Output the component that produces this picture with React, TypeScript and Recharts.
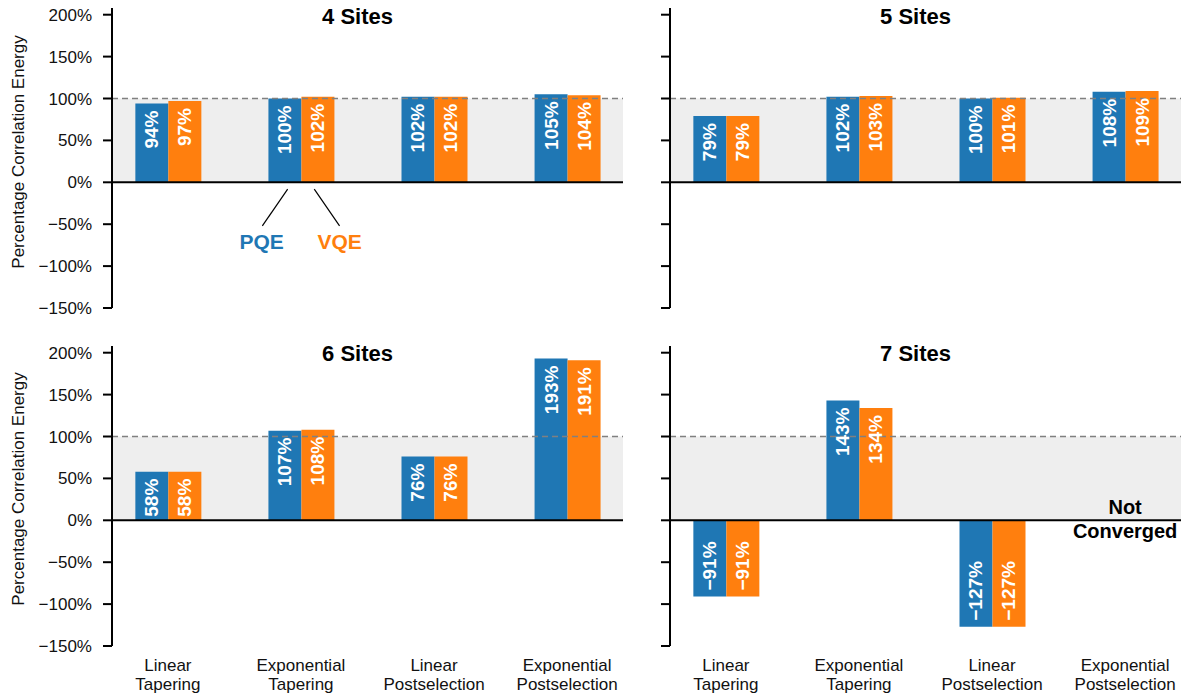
import React from 'react';
import {
  BarChart,
  Bar,
  XAxis,
  YAxis,
  ReferenceArea,
  ReferenceLine,
  ReferenceDot,
  LabelList,
} from 'recharts';

const FONT = '"Liberation Sans", Arial, Helvetica, sans-serif';
const BLUE = '#1f77b4';
const ORANGE = '#ff7f0e';

// Site counts for the four panels
const siteCounts = [4, 5, 6, 7];

// Methods (category index 0..3) and their two-line labels
const methodIndex = [0, 1, 2, 3];
const methodLine1 = ['Linear', 'Exponential', 'Linear', 'Exponential'];
const methodLine2 = ['Tapering', 'Tapering', 'Postselection', 'Postselection'];

// Percentage correlation energy per method
const pqe4 = [94, 100, 102, 105];
const vqe4 = [97, 102, 102, 104];
const pqe5 = [79, 102, 100, 108];
const vqe5 = [79, 103, 101, 109];
const pqe6 = [58, 107, 76, 193];
const vqe6 = [58, 108, 76, 191];
const pqe7: (number | null)[] = [-91, 143, -127, null];
const vqe7: (number | null)[] = [-91, 134, -127, null];

const yTicks = [-150, -100, -50, 0, 50, 100, 150, 200];
const yDomain: [number, number] = [-150, 208];
const xDomain: [number, number] = [-0.42, 3.42];

const fmtPct = (v: number) => (v < 0 ? `\u2212${Math.abs(v)}%` : `${v}%`);

const buildRows = (pqe: (number | null)[], vqe: (number | null)[]) =>
  methodIndex.map((m, i) => ({ m, pqe: pqe[i], vqe: vqe[i] }));

const BarValueLabel = (props: any) => {
  const { x, y, width, height, value } = props;
  if (value == null || x == null) return null;
  const top = Math.min(y, y + height);
  const bottom = Math.max(y, y + height);
  const cx = x + width / 2;
  const ay = value >= 0 ? top + 7 : bottom - 6;
  return (
    <text
      x={cx}
      y={ay}
      transform={`rotate(-90 ${cx} ${ay})`}
      textAnchor={value >= 0 ? 'end' : 'start'}
      dominantBaseline="central"
      fill="#ffffff"
      fontSize={19}
      fontWeight={700}
      fontFamily={FONT}
    >
      {fmtPct(value)}
    </text>
  );
};

const MethodTick = (props: any) => {
  const { x, y, payload } = props;
  const i = payload.value as number;
  return (
    <g>
      <text x={x} y={y + 25} textAnchor="middle" fontSize={17} fontFamily={FONT} fill="#111">
        {methodLine1[i]}
      </text>
      <text x={x} y={y + 44} textAnchor="middle" fontSize={17} fontFamily={FONT} fill="#111">
        {methodLine2[i]}
      </text>
    </g>
  );
};

const seriesTag = (text: string, color: string) => (props: any) => (
  <text
    x={props.cx}
    y={props.cy}
    textAnchor="middle"
    dominantBaseline="central"
    fontSize={21}
    fontWeight={700}
    fontFamily={FONT}
    fill={color}
  >
    {text}
  </text>
);

const NotConverged = (props: any) => (
  <g>
    <text x={props.cx} y={props.cy - 6} textAnchor="middle" fontSize={20} fontWeight={700} fontFamily={FONT} fill="#000">
      Not
    </text>
    <text x={props.cx} y={props.cy + 18} textAnchor="middle" fontSize={20} fontWeight={700} fontFamily={FONT} fill="#000">
      Converged
    </text>
  </g>
);

type PanelProps = {
  rows: { m: number; pqe: number | null; vqe: number | null }[];
  isLeft: boolean;
  isBottom: boolean;
  annotate?: boolean;
  notConvergedAt?: number;
};

const Panel = ({ rows, isLeft, isBottom, annotate, notConvergedAt }: PanelProps) => {
  const width = isLeft ? 640 : 544;
  const height = isBottom ? 360 : 330;
  const margin = isLeft
    ? { top: 8, right: 17, bottom: 2, left: 12 }
    : { top: 8, right: 3, bottom: 2, left: 0 };
  return (
    <BarChart width={width} height={height} data={rows} margin={margin} barGap={0} barSize={33}>
      <ReferenceArea y1={0} y2={100} fill="#eeeeee" fillOpacity={1} stroke="none" ifOverflow="visible" />
      <ReferenceLine y={100} stroke="#808080" strokeWidth={1.6} strokeDasharray="6 4" />
      <XAxis
        dataKey="m"
        type="number"
        domain={xDomain}
        ticks={methodIndex}
        allowDataOverflow
        axisLine={false}
        tickLine={false}
        tickSize={0}
        tickMargin={0}
        height={isBottom ? 50 : 20}
        tick={isBottom ? <MethodTick /> : false}
        interval={0}
      />
      <YAxis
        type="number"
        domain={yDomain}
        ticks={yTicks}
        allowDataOverflow
        width={isLeft ? 100 : 30}
        axisLine={{ stroke: '#000', strokeWidth: 2 }}
        tickLine={{ stroke: '#000', strokeWidth: 2 }}
        tickSize={9}
        tickMargin={11}
        tick={{ fill: '#111', fontSize: 17, fontFamily: FONT }}
        tickFormatter={isLeft ? fmtPct : () => ''}
        interval={0}
      />
      <Bar dataKey="pqe" fill={BLUE} isAnimationActive={false}>
        <LabelList dataKey="pqe" content={<BarValueLabel />} />
      </Bar>
      <Bar dataKey="vqe" fill={ORANGE} isAnimationActive={false}>
        <LabelList dataKey="vqe" content={<BarValueLabel />} />
      </Bar>
      <ReferenceLine y={0} stroke="#000" strokeWidth={2} />
      {annotate && (
        <ReferenceLine
          segment={[
            { x: 0.9, y: -8.2 },
            { x: 0.71, y: -52 },
          ]}
          stroke="#000"
          strokeWidth={1.2}
        />
      )}
      {annotate && (
        <ReferenceLine
          segment={[
            { x: 1.1, y: -8.2 },
            { x: 1.29, y: -52 },
          ]}
          stroke="#000"
          strokeWidth={1.2}
        />
      )}
      {annotate && <ReferenceDot x={0.705} y={-71} r={0} shape={seriesTag('PQE', BLUE)} />}
      {annotate && <ReferenceDot x={1.29} y={-71} r={0} shape={seriesTag('VQE', ORANGE)} />}
      {notConvergedAt != null && (
        <ReferenceDot x={notConvergedAt} y={0} r={0} shape={<NotConverged />} />
      )}
    </BarChart>
  );
};

const panels = [
  { sites: siteCounts[0], rows: buildRows(pqe4, vqe4), left: 0, top: 0, isLeft: true, isBottom: false, annotate: true },
  { sites: siteCounts[1], rows: buildRows(pqe5, vqe5), left: 640, top: 0, isLeft: false, isBottom: false },
  { sites: siteCounts[2], rows: buildRows(pqe6, vqe6), left: 0, top: 338, isLeft: true, isBottom: true },
  { sites: siteCounts[3], rows: buildRows(pqe7, vqe7), left: 640, top: 338, isLeft: false, isBottom: true, notConvergedAt: 3 },
];

export default function App() {
  return (
    <div
      style={{
        position: 'absolute',
        left: 0,
        top: 0,
        width: 1184,
        height: 698,
        background: '#fff',
        fontFamily: FONT,
      }}
    >
      {panels.map((p) => (
        <div key={p.sites} style={{ position: 'absolute', left: p.left, top: p.top }}>
          <Panel
            rows={p.rows}
            isLeft={p.isLeft}
            isBottom={p.isBottom}
            annotate={p.annotate}
            notConvergedAt={p.notConvergedAt}
          />
        </div>
      ))}
      <svg
        width={1184}
        height={698}
        style={{ position: 'absolute', left: 0, top: 0, pointerEvents: 'none' }}
      >
        {panels.map((p) => (
          <text
            key={`t${p.sites}`}
            x={p.isLeft ? 357.5 : 915.5}
            y={p.isBottom ? 361 : 23.5}
            textAnchor="middle"
            fontSize={22}
            fontWeight={700}
            fontFamily={FONT}
            fill="#000"
          >
            {`${p.sites} Sites`}
          </text>
        ))}
        {[152, 489].map((cy) => (
          <text
            key={`y${cy}`}
            x={18}
            y={cy}
            transform={`rotate(-90 18 ${cy})`}
            textAnchor="middle"
            dominantBaseline="central"
            fontSize={17}
            fontFamily={FONT}
            fill="#111"
          >
            Percentage Correlation Energy
          </text>
        ))}
      </svg>
    </div>
  );
}
